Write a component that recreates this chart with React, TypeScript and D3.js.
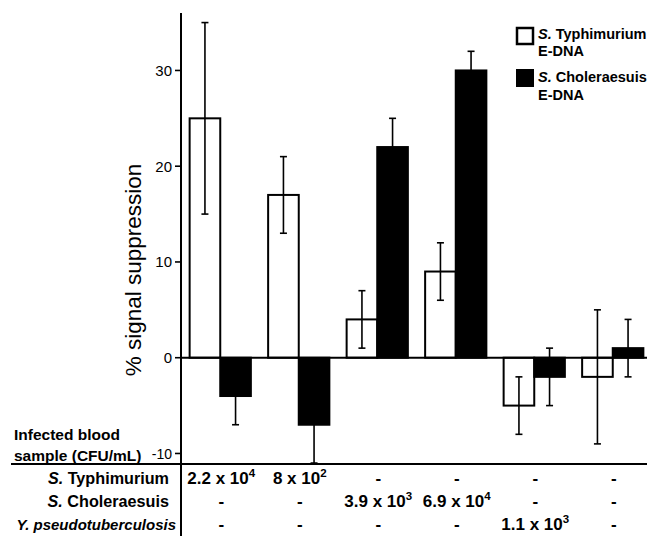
import * as d3 from 'd3';

// bar groups (one per infected blood sample)
const samples = ['s1', 's2', 's3', 's4', 's5', 's6'];

// % signal suppression, mean and error, per E-DNA sensor
const typhiMean = [25, 17, 4, 9, -5, -2];
const typhiErr = [10, 4, 3, 3, 3, 7];
const cholMean = [-4, -7, 22, 30, -2, 1];
const cholErr = [3, 4, 3, 2, 3, 3];

const yTicks = [30, 20, 10, 0, -10];

// table under the chart
const rowLabels = [
  { sp: 'S.', rest: ' Typhimurium', allItalic: false },
  { sp: 'S.', rest: ' Choleraesuis', allItalic: false },
  { sp: 'Y.', rest: ' pseudotuberculosis', allItalic: true },
];
const rowTyphi = ['2.2 x 10^4', '8 x 10^2', '-', '-', '-', '-'];
const rowChol = ['-', '-', '3.9 x 10^3', '6.9 x 10^4', '-', '-'];
const rowYersinia = ['-', '-', '-', '-', '1.1 x 10^3', '-'];

const W = 648;
const H = 536;
const axisX = 181;
const font = 'Liberation Sans, Arial, Helvetica, sans-serif';

const Cell = ({ x, y, v }: { x: number; y: number; v: string }) => {
  const [base, exp] = v.split('^');
  return (
    <text x={x} y={y} textAnchor="middle" fontSize={17} fontWeight="bold" fontFamily={font}>
      {base}
      {exp && (
        <tspan fontSize={11.5} dy={-7}>
          {exp}
        </tspan>
      )}
    </text>
  );
};

const App = () => {
  const y = d3.scaleLinear().domain([-11.1, 36]).range([464, 13]);
  const x = d3.scaleBand().domain(samples).range([axisX, 652]).paddingInner(0.22).paddingOuter(0.11);
  const sub = d3.scaleBand().domain(['typhi', 'chol']).range([0, x.bandwidth()]);
  const bw = sub.bandwidth();

  const bars = samples.flatMap((s, i) => [
    { s, key: 'typhi', v: typhiMean[i], e: typhiErr[i], fill: 'white' },
    { s, key: 'chol', v: cholMean[i], e: cholErr[i], fill: 'black' },
  ]);

  const rows = [rowTyphi, rowChol, rowYersinia];
  const rowY = [484, 507, 530];

  return (
    <div style={{ position: 'absolute', left: 0, top: 0 }}>
      <svg width={W} height={H} style={{ display: 'block', background: 'white' }}>
        {/* bars */}
        {bars.map((b, i) => {
          const bx = (x(b.s) ?? 0) + (sub(b.key) ?? 0);
          return (
            <rect
              key={'b' + i}
              x={bx}
              y={y(Math.max(0, b.v))}
              width={bw}
              height={Math.abs(y(b.v) - y(0))}
              fill={b.fill}
              stroke="black"
              strokeWidth={2}
            />
          );
        })}
        {/* error bars */}
        {bars.map((b, i) => {
          const cx = (x(b.s) ?? 0) + (sub(b.key) ?? 0) + bw / 2;
          const lo = Math.max(b.v - b.e, y.domain()[0]);
          const hi = b.v + b.e;
          return (
            <g key={'e' + i} stroke="black" strokeWidth={1.6}>
              <line x1={cx} x2={cx} y1={y(lo)} y2={y(hi)} />
              <line x1={cx - 3.5} x2={cx + 3.5} y1={y(hi)} y2={y(hi)} />
              <line x1={cx - 3.5} x2={cx + 3.5} y1={y(lo)} y2={y(lo)} />
            </g>
          );
        })}
        {/* zero line */}
        <line x1={axisX} x2={647} y1={y(0)} y2={y(0)} stroke="black" strokeWidth={2} />
        {/* y axis */}
        <line x1={axisX} x2={axisX} y1={13} y2={H} stroke="black" strokeWidth={2} />
        {yTicks.map((t) => (
          <g key={'t' + t}>
            <line x1={axisX - 6} x2={axisX} y1={y(t)} y2={y(t)} stroke="black" strokeWidth={1.6} />
            <text
              x={axisX - 9}
              y={y(t)}
              dy="0.36em"
              textAnchor="end"
              fontSize={t === -10 ? 14 : 15}
              fontFamily={font}
            >
              {t}
            </text>
          </g>
        ))}
        <text
          transform={`translate(133, 270) rotate(-90)`}
          textAnchor="middle"
          dominantBaseline="central"
          fontSize={22.5}
          fontFamily={font}
        >
          % signal suppression
        </text>

        {/* legend */}
        <rect x={517} y={28} width={16} height={16} fill="white" stroke="black" strokeWidth={2.5} />
        <text x={538} y={39} fontSize={14.5} fontWeight="bold" fontFamily={font}>
          <tspan fontStyle="italic">S.</tspan> Typhimurium
        </text>
        <text x={538} y={55.5} fontSize={14.5} fontWeight="bold" fontFamily={font}>
          E-DNA
        </text>
        <rect x={516} y={69} width={18} height={18} fill="black" />
        <text x={538} y={82} fontSize={14.5} fontWeight="bold" fontFamily={font}>
          <tspan fontStyle="italic">S.</tspan> Choleraesuis
        </text>
        <text x={538} y={100} fontSize={14.5} fontWeight="bold" fontFamily={font}>
          E-DNA
        </text>

        {/* table */}
        <line x1={11} x2={647} y1={464} y2={464} stroke="black" strokeWidth={2} />
        <text x={14} y={440} fontSize={15.5} fontWeight="bold" fontFamily={font}>
          Infected blood
        </text>
        <text x={14} y={461} fontSize={15.5} fontWeight="bold" fontFamily={font}>
          sample (CFU/mL)
        </text>
        {rowLabels.map((r, i) => (
          <text
            key={'rl' + i}
            x={r.allItalic ? 176 : 169}
            y={rowY[i]}
            textAnchor="end"
            fontSize={r.allItalic ? 15 : 16.2}
            fontWeight="bold"
            fontFamily={font}
            fontStyle={r.allItalic ? 'italic' : 'normal'}
          >
            <tspan fontStyle="italic">{r.sp}</tspan>
            {r.rest}
          </text>
        ))}
        {rows.map((row, ri) =>
          row.map((v, ci) => (
            <Cell key={`c${ri}-${ci}`} x={(x(samples[ci]) ?? 0) + x.bandwidth() / 2 + 1} y={rowY[ri]} v={v} />
          ))
        )}
      </svg>
    </div>
  );
};

export default App;
